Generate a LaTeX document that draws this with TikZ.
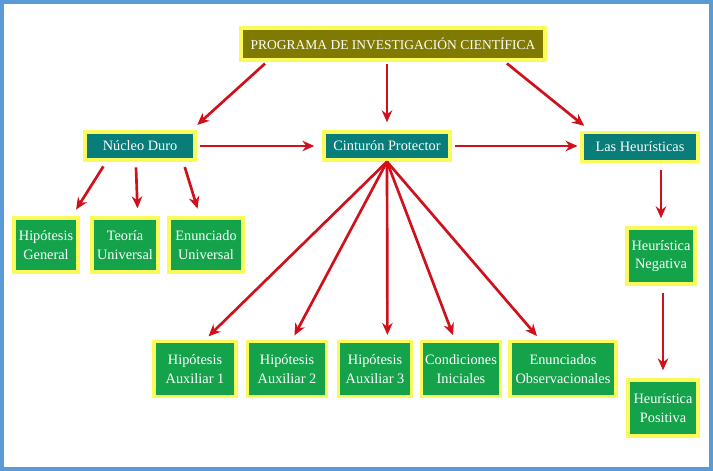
\documentclass[tikz,border=0pt]{standalone}
\usepackage{fontspec}
\setmainfont{Liberation Serif}
\usetikzlibrary{
  arrows.meta,
  calc,
  positioning}
\definecolor{framecol}{RGB}{91,155,213}
\definecolor{boxline}{RGB}{250,250,90}
\definecolor{olivebox}{RGB}{128,122,0}
\definecolor{tealbox}{RGB}{8,125,122}
\definecolor{greenbox}{RGB}{20,163,75}
\definecolor{arrowred}{RGB}{208,16,26}

\begin{document}
\begin{tikzpicture}[
  x=0.025cm, y=-0.025cm,
  >={Stealth[length=8.5pt,width=7.5pt]},
  hbox/.style={draw=boxline,line width=2.4pt,text=white,align=center,inner sep=1pt,
    font=\fontsize{10.2}{13}\selectfont},
  head/.style={hbox,fill=olivebox,minimum width=7.6cm,minimum height=0.8cm,
    font=\fontsize{9.6}{12}\selectfont},
  mid/.style={hbox,fill=tealbox,minimum height=0.7cm},
  leaf/.style={hbox,fill=greenbox,minimum height=1.35cm},
  link/.style={->,arrowred,line width=1.9pt,shorten >=0.2cm}
]%
  \useasboundingbox (0,0) rectangle (713,471);
  \draw[framecol,line width=0.1cm] (2,2) rectangle (711,469);

  \node[head] (pic) at (393,44) {PROGRAMA DE INVESTIGACIÓN CIENTÍFICA};

  \node[mid,minimum width=2.75cm] (nd) at (140,146) {Núcleo Duro};
  \node[mid,minimum width=3.15cm] (cp) at (387,146) {Cinturón Protector};
  \node[mid,minimum width=2.9cm,minimum height=0.72cm] (lh) at (640,147) {Las Heurísticas};

  \node[leaf,minimum width=1.6cm] (hg) at (46,245) {Hipótesis\\General};
  \node[leaf,minimum width=1.65cm] (tu) at (125,245) {Teoría\\Universal};
  \node[leaf,minimum width=1.85cm] (eu) at (206,245) {Enunciado\\Universal};

  \node[leaf,minimum width=2.05cm,minimum height=1.38cm] (ha1) at (195,369) {Hipótesis\\Auxiliar 1};
  \node[leaf,minimum width=1.98cm,minimum height=1.38cm] (ha2) at (287,369) {Hipótesis\\Auxiliar 2};
  \node[leaf,minimum width=1.83cm,minimum height=1.38cm] (ha3) at (375,369) {Hipótesis\\Auxiliar 3};
  \node[leaf,minimum width=1.98cm,minimum height=1.38cm] (ci) at (461,369) {Condiciones\\Iniciales};
  \node[leaf,minimum width=2.65cm,minimum height=1.38cm] (eo) at (563,369) {Enunciados\\Observacionales};

  \node[leaf,minimum width=1.7cm,minimum height=1.4cm] (hn) at (661,256) {Heurística\\Negativa};
  \node[leaf,minimum width=1.75cm,minimum height=1.4cm] (hp) at (663,408) {Heurística\\Positiva};

  \draw[link,shorten <=2pt] (pic.188) -- (nd.17);
  \draw[link,shorten <=2pt] (pic.south -| cp.north) -- (cp.north);
  \draw[link,shorten <=2pt] (pic.351) -- (lh.162);

  \draw[link,shorten <=2pt] (nd.east) -- (cp.west);
  \draw[link,shorten <=2pt,shorten >=2pt] (cp.east) -- (cp.east -| lh.west);

  \draw[link,shorten <=4pt] (nd.205) -- (hg.48);
  \draw[link,shorten <=4pt] (nd.255) -- (tu.66);
  \draw[link,shorten <=4pt] (nd.340) -- (eu.102);

  \foreach \dest/\ang in {ha1/71,ha2/80,ha3/67,ci/102,eo/128}
    \draw[link,shorten >=0.12cm] (cp.south) -- (\dest.\ang);

  \draw[link,shorten <=5pt] (lh.south -| hn.north) -- (hn.north);
  \draw[link,shorten <=5pt] (hn.south -| hp.north) -- (hp.north);
\end{tikzpicture}
\end{document}
